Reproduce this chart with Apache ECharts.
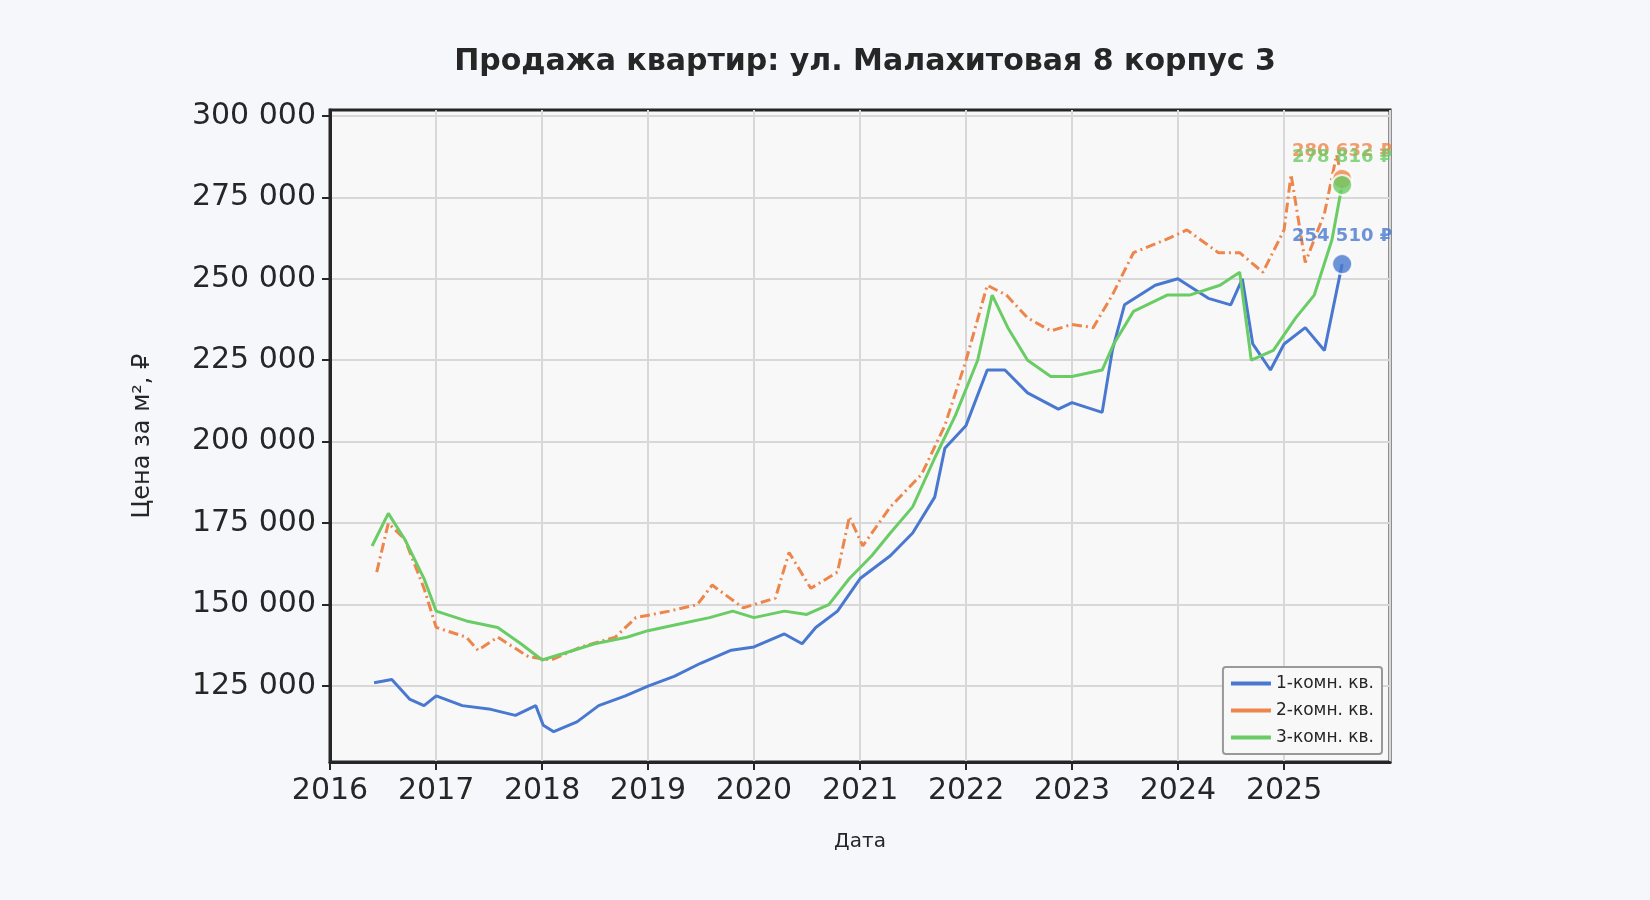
<!DOCTYPE html>
<html lang="ru">
<head>
<meta charset="UTF-8" />
<script src="https://cdn.jsdelivr.net/npm/echarts@6/dist/echarts.min.js"></script>
<style>body{margin:0;background:#f5f7fa}#main{width:1650px;height:900px}</style>
</head>
<body>
<div id="main"></div>
<script>
// [date, price per m²]
const oneRoom = [
  ["2016-06-01",126000],["2016-08-01",127000],["2016-10-01",121000],["2016-11-20",119000],["2017-01-01",122000],
  ["2017-04-01",119000],["2017-07-01",118000],["2017-10-01",116000],["2017-12-10",119000],["2018-01-05",113000],
  ["2018-02-10",111000],["2018-05-01",114000],["2018-07-15",119000],["2018-10-15",122000],["2019-01-01",125000],
  ["2019-04-01",128000],["2019-07-01",132000],["2019-10-15",136000],["2020-01-01",137000],["2020-04-15",141000],
  ["2020-06-15",138000],["2020-08-01",143000],["2020-10-15",148000],["2021-01-01",158000],["2021-04-15",165000],
  ["2021-07-01",172000],["2021-09-15",183000],["2021-10-20",198000],["2022-01-01",205000],["2022-03-15",222000],
  ["2022-05-15",222000],["2022-08-01",215000],["2022-11-15",210000],["2023-01-01",212000],["2023-04-15",209000],
  ["2023-05-20",228000],["2023-07-01",242000],["2023-10-15",248000],["2024-01-01",250000],["2024-04-15",244000],
  ["2024-07-01",242000],["2024-08-10",250000],["2024-09-15",230000],["2024-11-15",222000],["2025-01-01",230000],
  ["2025-03-15",235000],["2025-05-20",228000],["2025-07-20",254510]
];
const twoRoom = [
  ["2016-06-10",160000],["2016-07-20",175000],["2016-09-15",170000],["2016-11-20",155000],["2017-01-01",143000],
  ["2017-04-15",140000],["2017-05-25",136000],["2017-08-01",140000],["2017-11-15",134000],["2018-02-01",133000],
  ["2018-05-15",137000],["2018-09-10",140000],["2018-11-20",146000],["2019-03-15",148000],["2019-06-20",150000],
  ["2019-08-10",156000],["2019-11-25",149000],["2020-03-15",152000],["2020-05-01",166000],["2020-07-15",155000],
  ["2020-10-15",160000],["2020-11-25",177000],["2021-01-10",168000],["2021-04-15",180000],["2021-08-01",190000],
  ["2021-10-20",205000],["2022-01-01",225000],["2022-03-15",248000],["2022-05-20",245000],["2022-08-01",238000],
  ["2022-10-20",234000],["2023-01-01",236000],["2023-03-15",235000],["2023-05-20",245000],["2023-08-01",258000],
  ["2023-11-20",262000],["2024-02-01",265000],["2024-05-20",258000],["2024-08-01",258000],["2024-10-20",252000],
  ["2025-01-01",265000],["2025-01-25",282000],["2025-03-15",255000],["2025-05-20",270000],["2025-07-01",288000],
  ["2025-07-20",280632]
];
const threeRoom = [
  ["2016-05-25",168000],["2016-07-20",178000],["2016-09-15",170000],["2016-11-20",158000],["2017-01-01",148000],
  ["2017-04-15",145000],["2017-08-01",143000],["2017-10-20",138000],["2018-01-01",133000],["2018-03-15",135000],
  ["2018-07-01",138000],["2018-10-20",140000],["2019-01-01",142000],["2019-04-15",144000],["2019-08-01",146000],
  ["2019-10-20",148000],["2020-01-01",146000],["2020-04-15",148000],["2020-07-01",147000],["2020-09-15",150000],
  ["2020-11-25",158000],["2021-02-10",165000],["2021-04-15",172000],["2021-07-01",180000],["2021-09-15",195000],
  ["2021-11-25",208000],["2022-02-10",225000],["2022-04-01",245000],["2022-05-25",235000],["2022-08-01",225000],
  ["2022-10-20",220000],["2023-01-01",220000],["2023-04-15",222000],["2023-05-25",230000],["2023-08-01",240000],
  ["2023-11-25",245000],["2024-02-10",245000],["2024-05-25",248000],["2024-08-01",252000],["2024-09-10",225000],
  ["2024-11-25",228000],["2025-02-10",238000],["2025-04-15",245000],["2025-06-15",262000],["2025-07-20",278816]
];
const seriesNames = ["1-комн. кв.", "2-комн. кв.", "3-комн. кв."];
const colors = ["#4878d0", "#ee854a", "#6acc64"];
const lastLabels = ["254 510 ₽", "280 632 ₽", "278 816 ₽"];
const yTicks = [125000, 150000, 175000, 200000, 225000, 250000, 275000, 300000];

const fmt = v => String(v).replace(/\B(?=(\d{3})+(?!\d))/g, " ");
const all = [oneRoom, twoRoom, threeRoom];
const lineTypes = ["solid", [10, 4, 2, 4], "solid"];

let series = all.map((d, i) => ({
  name: seriesNames[i], type: "line", data: d, showSymbol: false,
  lineStyle: { color: colors[i], width: 3, type: lineTypes[i] }, itemStyle: { color: colors[i] }
}));
all.forEach((d, i) => {
  series.push({
    type: "scatter", data: [d[d.length - 1]], symbolSize: 20, z: 5,
    itemStyle: { color: colors[i], borderColor: "#fff", borderWidth: 2 },
    label: { show: true, position: "top", distance: 8, formatter: lastLabels[i],
      color: colors[i], fontWeight: "bold", fontSize: 18, fontFamily: "DejaVu Sans" }
  });
});

const chart = echarts.init(document.getElementById("main"));
chart.setOption({
  backgroundColor: "#f5f7fa",
  animation: false,
  textStyle: { fontFamily: "DejaVu Sans" },
  title: { text: "Продажа квартир: ул. Малахитовая 8 корпус 3", left: 860, top: 42, textAlign: "center",
    textStyle: { fontSize: 30, fontWeight: "bold", color: "#262626", fontFamily: "DejaVu Sans" } },
  grid: { left: 330, right: 260, top: 110, bottom: 138, show: true, backgroundColor: "#f8f8f9",
    borderColor: "#262626", borderWidth: 3 },
  legend: { data: seriesNames, right: 268, bottom: 146, orient: "vertical", itemWidth: 40, itemHeight: 4,
    itemGap: 10, padding: [8, 8, 8, 8], backgroundColor: "#f8f8f9", borderColor: "#999", borderWidth: 2, borderRadius: 3,
    textStyle: { fontSize: 17, color: "#262626" }, icon: "rect" },
  xAxis: { type: "time", min: "2016-01-01", max: "2026-01-01", name: "Дата",
    nameLocation: "middle", nameGap: 70, nameTextStyle: { fontSize: 20, color: "#262626" },
    axisLine: { lineStyle: { color: "#262626", width: 3 } },
    axisTick: { show: true, length: 8, lineStyle: { width: 2, color: "#262626" } },
    axisLabel: { fontSize: 30, color: "#262626", margin: 14, formatter: v => String(new Date(v).getFullYear()) },
    splitNumber: 10,
    splitLine: { show: true, lineStyle: { color: "#d8d8d8", width: 2 } } },
  yAxis: { type: "value", min: 101700, max: 301800, name: "Цена за м², ₽", nameLocation: "middle", nameGap: 175,
    nameTextStyle: { fontSize: 24, color: "#262626" },
    axisLine: { show: true, lineStyle: { color: "#262626", width: 3 } },
    axisTick: { show: true, length: 8, lineStyle: { width: 2, color: "#262626" }, customValues: yTicks },
    axisLabel: { fontSize: 30, color: "#262626", margin: 14, formatter: fmt, customValues: yTicks },
    splitLine: { show: true, lineStyle: { color: "#d8d8d8", width: 2 } } },
  series: series
});
</script>
</body>
</html>
